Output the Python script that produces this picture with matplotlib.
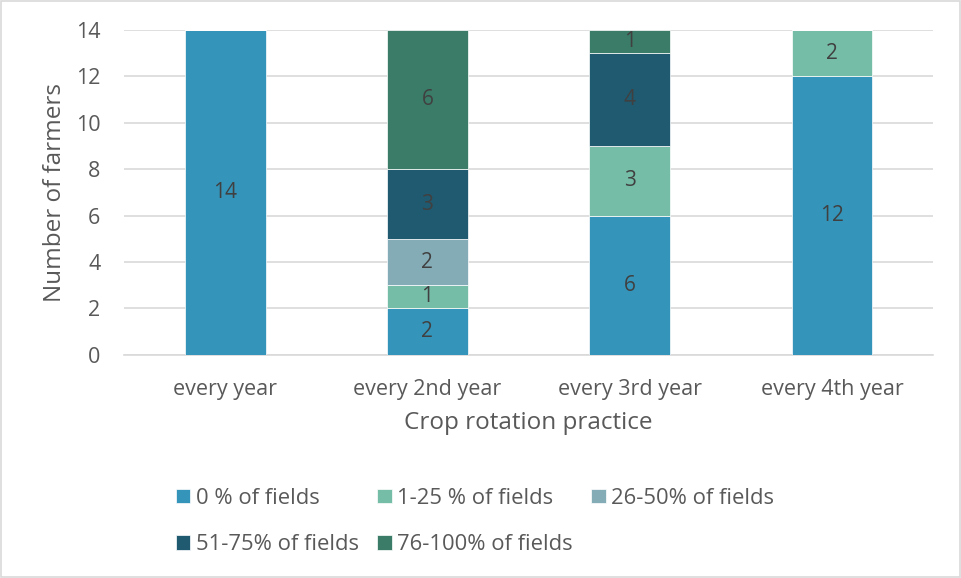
import matplotlib
matplotlib.use("Agg")
import matplotlib.pyplot as plt
import numpy as np
from matplotlib.patches import Rectangle

plt.rcParams['font.family'] = ['Open Sans', 'DejaVu Sans']

categories = ["every year", "every 2nd year", "every 3rd year", "every 4th year"]
series_names = ["0 % of fields", "1-25 % of fields", "26-50% of fields",
                "51-75% of fields", "76-100% of fields"]
s0 = [14, 2, 6, 12]
s1 = [0, 1, 3, 2]
s2 = [0, 2, 0, 0]
s3 = [0, 3, 4, 0]
s4 = [0, 6, 1, 0]
series = [s0, s1, s2, s3, s4]
colors = ["#3494BA", "#75BDA7", "#84ACB6", "#1F5A70", "#3A7C68"]
yticks = [0, 2, 4, 6, 8, 10, 12, 14]

fig = plt.figure(figsize=(9.61, 5.78), dpi=100)
ax = fig.add_axes([0.129, 0.386, 0.842, 0.562])

x = np.arange(len(categories))
bottom = np.zeros(len(categories))
handles = []
for name, vals, c in zip(series_names, series, colors):
    vals = np.array(vals, dtype=float)
    bars = ax.bar(x, vals, bottom=bottom, width=0.4, color=c, label=name,
                  edgecolor='white', linewidth=0.5, zorder=3)
    handles.append(bars)
    for xi, v, b in zip(x, vals, bottom):
        if v > 0:
            ax.text(xi, b + v / 2, f"{int(v)}", ha='center', va='center',
                    fontsize=15, color='#404040', zorder=4)
    bottom += vals

ax.set_xlim(-0.5, len(categories) - 0.5)
ax.set_ylim(0, 14)
ax.set_yticks(yticks)
ax.set_yticklabels([str(t) for t in yticks])
ax.set_xticks(x)
ax.set_xticklabels(categories)
ax.grid(axis='y', color='#D9D9D9', linewidth=1.2, zorder=0)
ax.set_axisbelow(True)
for s in ['top', 'right', 'left']:
    ax.spines[s].set_visible(False)
ax.spines['bottom'].set_color('#D9D9D9')
ax.spines['bottom'].set_linewidth(1.2)
ax.tick_params(axis='x', length=0, labelsize=15.5, colors='#595959', pad=17)
ax.tick_params(axis='y', length=0, labelsize=15.5, colors='#595959', pad=17)
ax.set_ylabel("Number of farmers", fontsize=17.5, color='#595959')
ax.yaxis.set_label_coords(-0.0705, 0.5)
ax.set_xlabel("Crop rotation practice", fontsize=17.5, color='#595959', labelpad=8)

order = [0, 3, 1, 4, 2]
h = [handles[i] for i in order]
l = [series_names[i] for i in order]
leg = fig.legend(h, l, ncol=3, loc='center left', bbox_to_anchor=(165 / 961, 0.098),
                 frameon=False, fontsize=15.8, labelcolor='#595959', borderpad=0,
                 handlelength=0.65, handleheight=0.65, handletextpad=0.25,
                 columnspacing=0.85, labelspacing=1.15)

fig.patches.append(Rectangle((0.001, 0.001), 0.998, 0.998, transform=fig.transFigure,
                             fill=False, edgecolor='#D9D9D9', linewidth=1.2))

fig.savefig("out.png", dpi=100)
